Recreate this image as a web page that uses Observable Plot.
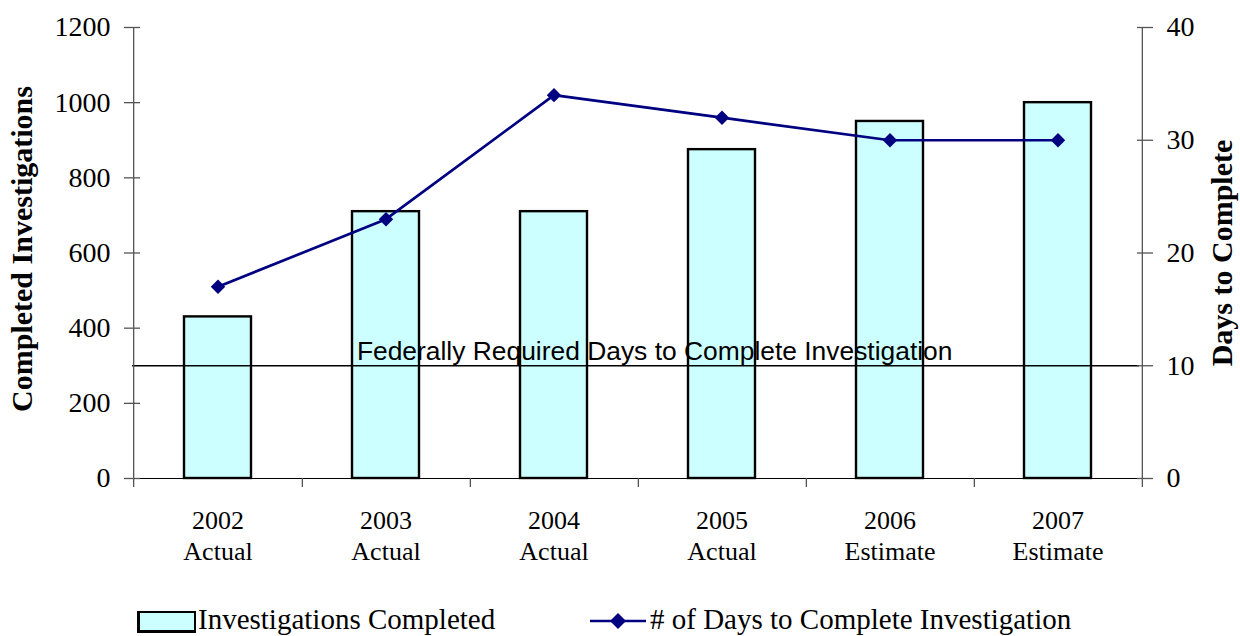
<!DOCTYPE html>
<html>
<head>
<meta charset="utf-8">
<script src="https://cdn.jsdelivr.net/npm/d3@7"></script>
<script src="https://cdn.jsdelivr.net/npm/@observablehq/plot@0.6"></script>
<style>
  html, body { margin: 0; padding: 0; background: #fff; }
  #wrap { position: relative; width: 1240px; height: 636px; font-family: "Liberation Serif", "Times New Roman", serif; }
  #legend { position: absolute; left: 0; top: 590px; width: 1240px; height: 46px; font-size: 29px; color: #000; }
  .lg { position: absolute; top: 13px; white-space: nowrap; line-height: 32px; }
  .sw { position: absolute; top: 21px; left: 137px; width: 54px; height: 17px; background: #ccffff; border: 2px solid #000; border-bottom-width: 3px; border-left-width: 3px; }
</style>
</head>
<body>
<div id="wrap">
  <div id="chart"></div>
  <div id="legend">
    <div class="sw"></div>
    <div class="lg" style="left:198px">Investigations Completed</div>
    <svg style="position:absolute;left:588px;top:20px" width="60" height="22">
      <line x1="2" y1="11" x2="58" y2="11" stroke="#000080" stroke-width="2.5"/>
      <path d="M30,3 L38,11 L30,19 L22,11 Z" fill="#000080"/>
    </svg>
    <div class="lg" style="left:650px"># of Days to Complete Investigation</div>
  </div>
</div>
<script>
const years = ["2002", "2003", "2004", "2005", "2006", "2007"];
const status = ["Actual", "Actual", "Actual", "Actual", "Estimate", "Estimate"];
const completed = [430, 710, 710, 875, 950, 1000];
const daysToComplete = [17, 23, 34, 32, 30, 30];
const federalDays = 10;
const leftTicks = [0, 200, 400, 600, 800, 1000, 1200];
const rightTicks = [0, 10, 20, 30, 40];
const federalLabel = "Federally Required Days to Complete Investigation";
const leftTitle = "Completed Investigations";
const rightTitle = "Days to Complete";

const k = 1200 / 40; // right-axis (days) to left-axis scale factor
const data = years.map((y, i) => ({year: y, status: status[i], completed: completed[i], days: daysToComplete[i]}));

const W = 1240, H = 590;
const mL = 132, mR = 96, mT = 27, mB = 112;
const step = (W - mL - mR) / years.length;
const serif = "Liberation Serif, Times New Roman, serif";

const chart = Plot.plot({
  width: W,
  height: H,
  marginLeft: mL,
  marginRight: mR,
  marginTop: mT,
  marginBottom: mB,
  style: {fontFamily: serif, fontSize: "26px", color: "#000", background: "#fff"},
  x: {domain: years, paddingInner: 0.6, paddingOuter: 0.3, label: null},
  y: {domain: [0, 1200], label: null},
  marks: [
    Plot.barY(data, {x: "year", y: "completed", fill: "#ccffff", stroke: "#000", strokeWidth: 2.4}),
    // federal requirement line and label
    Plot.ruleY([federalDays * k], {stroke: "#000", strokeWidth: 1.4, insetRight: 5}),
    Plot.text([federalLabel], {x: () => years[3], y: () => federalDays * k, dx: -step / 2 + 17, dy: -6, lineAnchor: "bottom", textAnchor: "middle", text: d => d, fontFamily: "Liberation Sans, Arial, sans-serif", fontSize: 26.4, fill: "#000"}),
    // axis lines and category boundary ticks
    Plot.ruleY([0], {stroke: "#000", strokeWidth: 1.2}),
    Plot.ruleX([years[0]], {x: d => d, dx: -step / 2, insetBottom: -9, stroke: "#555", strokeWidth: 1.3}),
    Plot.ruleX(years.slice(0, -1), {x: d => d, dx: step / 2, y1: 0, y2: 0, insetBottom: -9, stroke: "#555", strokeWidth: 1.3}),
    Plot.ruleX([years[years.length - 1]], {x: d => d, dx: step / 2, insetBottom: -9, stroke: "#555", strokeWidth: 1.3}),
    // left axis
    Plot.axisY({anchor: "left", ticks: leftTicks, tickSize: 16, dx: 8, tickFormat: () => "", label: null, stroke: "#555", strokeWidth: 1.3}),
    Plot.axisY({anchor: "left", ticks: leftTicks, tickSize: 0, tickPadding: 22, tickFormat: d => String(d), label: null, fontSize: 28, fill: "#000"}),
    // right axis
    Plot.axisY({anchor: "right", ticks: rightTicks.map(d => d * k), tickSize: 16, dx: -8, tickFormat: () => "", label: null, stroke: "#555", strokeWidth: 1.3}),
    Plot.axisY({anchor: "right", ticks: rightTicks.map(d => d * k), tickSize: 0, tickPadding: 22, tickFormat: d => String(Math.round(d / k)), label: null, fontSize: 28, fill: "#000"}),
    // x axis labels
    Plot.axisX({tickSize: 0, tickPadding: 28, tickFormat: (d) => d + "\n" + status[years.indexOf(d)], label: null, fontSize: 26, lineHeight: 1.2, fill: "#000"}),
    // axis titles
    Plot.text([leftTitle], {frameAnchor: "left", dx: -110, dy: -4, rotate: -90, textAnchor: "middle", text: d => d, fontWeight: "bold", fontSize: 30, fill: "#000"}),
    Plot.text([rightTitle], {frameAnchor: "right", dx: 78, rotate: -90, textAnchor: "middle", text: d => d, fontWeight: "bold", fontSize: 30, fill: "#000"}),
    // days line
    Plot.line(data, {x: "year", y: d => d.days * k, stroke: "#000080", strokeWidth: 2.7}),
    Plot.dot(data, {x: "year", y: d => d.days * k, symbol: "diamond2", r: 6.5, fill: "#000080", stroke: "none"})
  ]
});
document.getElementById("chart").appendChild(chart);
</script>
</body>
</html>
